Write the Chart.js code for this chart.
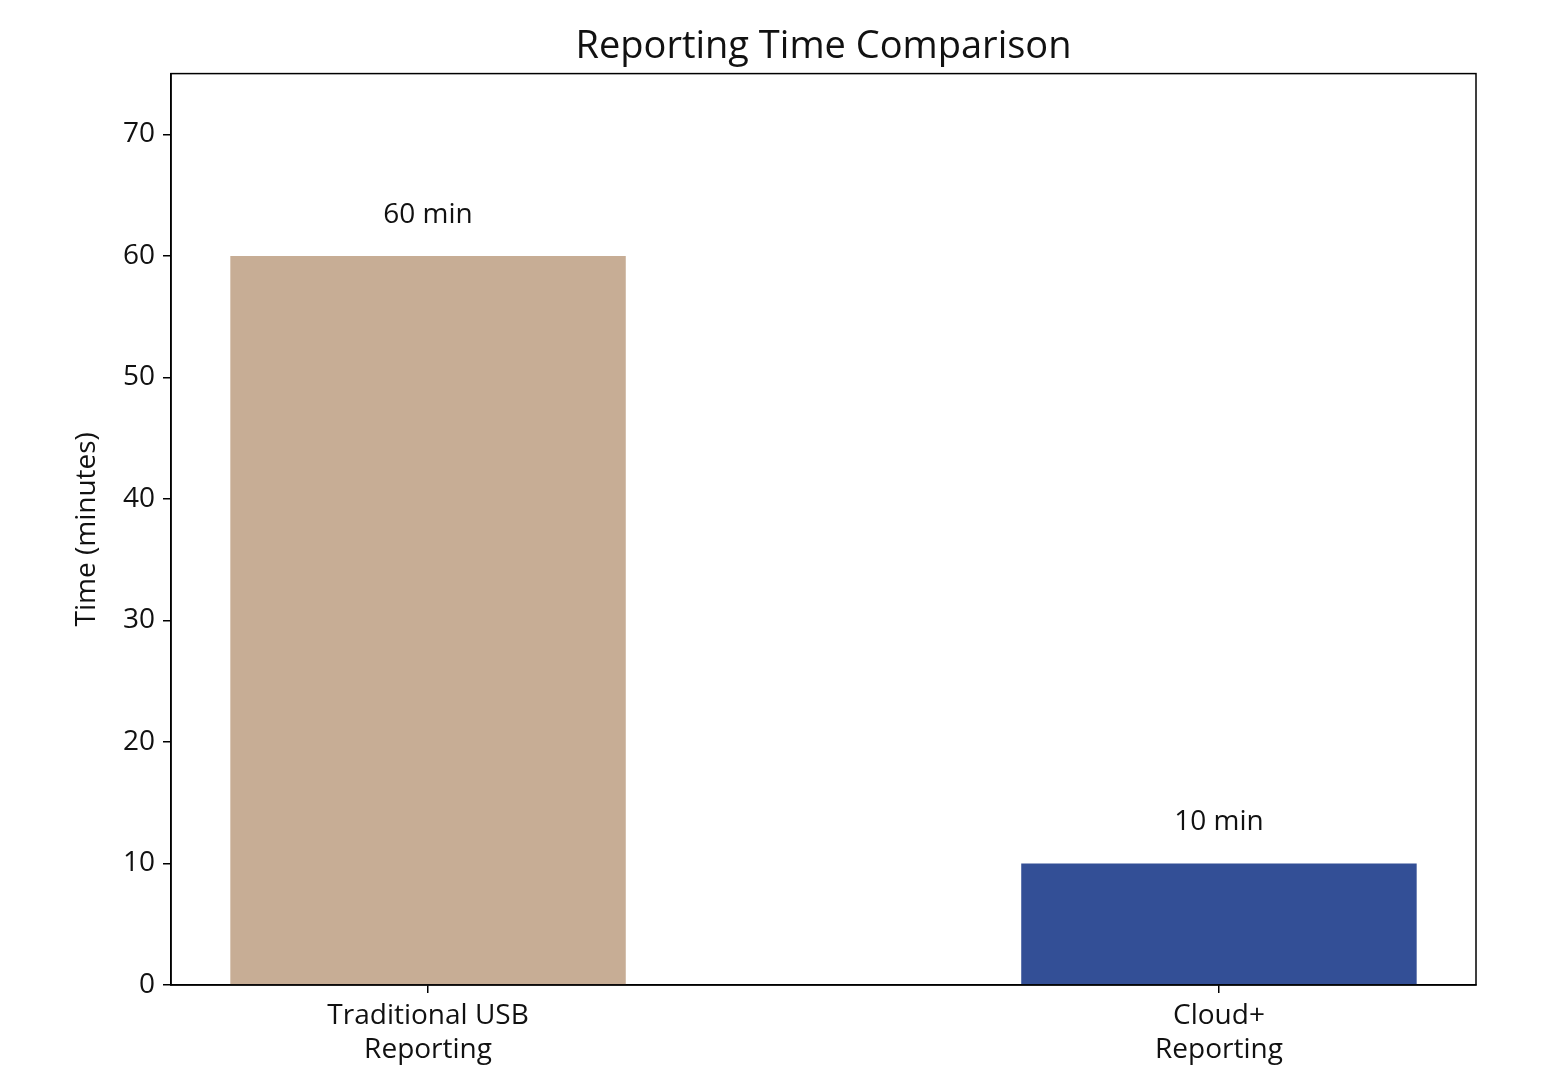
<!DOCTYPE html>
<html>
<head>
<meta charset="utf-8">
<script src="https://cdn.jsdelivr.net/npm/chart.js@4/dist/chart.umd.min.js"></script>
<style>
  html, body { margin: 0; padding: 0; background: #fff; }
  #wrap { width: 1551px; height: 1081px; }
</style>
</head>
<body>
<div id="wrap"><canvas id="grafik"></canvas></div>
<script>
// data
const kategori = [["Traditional USB", "Reporting"], ["Cloud+", "Reporting"]];
const nilai = [60, 10];
const warna = ["#c7ad95", "#334f96"];
const yTicks = [0, 10, 20, 30, 40, 50, 60, 70];

const FONT = "'Open Sans', sans-serif";

// kotak di sekeliling area plot
const bingkai = {
  id: "bingkai",
  afterDraw(c) {
    const a = c.chartArea, ctx = c.ctx;
    ctx.save();
    ctx.strokeStyle = "#000";
    ctx.lineWidth = 1.5;
    ctx.strokeRect(a.left, a.top, a.right - a.left, a.bottom - a.top);
    ctx.restore();
  }
};

// label di atas batang
const labelBatang = {
  id: "labelBatang",
  afterDatasetsDraw(c) {
    const ctx = c.ctx;
    const meta = c.getDatasetMeta(0);
    ctx.save();
    ctx.font = "28px " + FONT;
    ctx.fillStyle = "#111";
    ctx.textAlign = "center";
    ctx.textBaseline = "middle";
    meta.data.forEach((bar, i) => {
      ctx.fillText(nilai[i] + " min", bar.x, bar.y - 41);
    });
    ctx.restore();
  }
};

const chart = new Chart(grafik, {
  type: "bar",
  data: {
    datasets: [{
      data: nilai.map((v, i) => ({ x: i, y: v })),
      backgroundColor: warna,
      borderWidth: 0,
      barPercentage: 0.5,
      categoryPercentage: 1
    }]
  },
  options: {
    responsive: true, maintainAspectRatio: false, animation: false,
    layout: { padding: { left: 0, right: 75, top: 0, bottom: 0 } },
    plugins: {
      legend: { display: false },
      tooltip: { enabled: false },
      title: {
        display: true, fullSize: false,
        text: "Reporting Time Comparison",
        color: "#111",
        font: { family: FONT, size: 38, weight: "normal" },
        padding: { top: 24, bottom: 4 }
      }
    },
    scales: {
      x: {
        type: "linear", min: -0.325, max: 1.325, offset: false,
        afterBuildTicks: s => { s.ticks = kategori.map((k, i) => ({ value: i })); },
        afterFit: s => { s.height = 96; },
        ticks: {
          color: "#111", padding: 7,
          font: { family: FONT, size: 28, lineHeight: 1.18 },
          callback: v => kategori[v]
        },
        grid: { offset: false, drawOnChartArea: false, drawTicks: true, tickLength: 8, color: "#000", lineWidth: 1.5 },
        border: { display: true, color: "#000", width: 1.5 }
      },
      y: {
        min: 0, max: 75,
        afterBuildTicks: s => { s.ticks = yTicks.map(v => ({ value: v })); },
        afterFit: s => { s.width = 171; },
        ticks: { color: "#111", padding: 8, font: { family: FONT, size: 28 } },
        grid: { drawOnChartArea: false, drawTicks: true, tickLength: 8, color: "#000", lineWidth: 1.5 },
        border: { display: true, color: "#000", width: 1.5 },
        title: {
          display: true, text: "Time (minutes)", color: "#111",
          font: { family: FONT, size: 28 },
          padding: { top: 70, bottom: 0 }
        }
      }
    }
  },
  plugins: [bingkai, labelBatang]
});
</script>
</body>
</html>
